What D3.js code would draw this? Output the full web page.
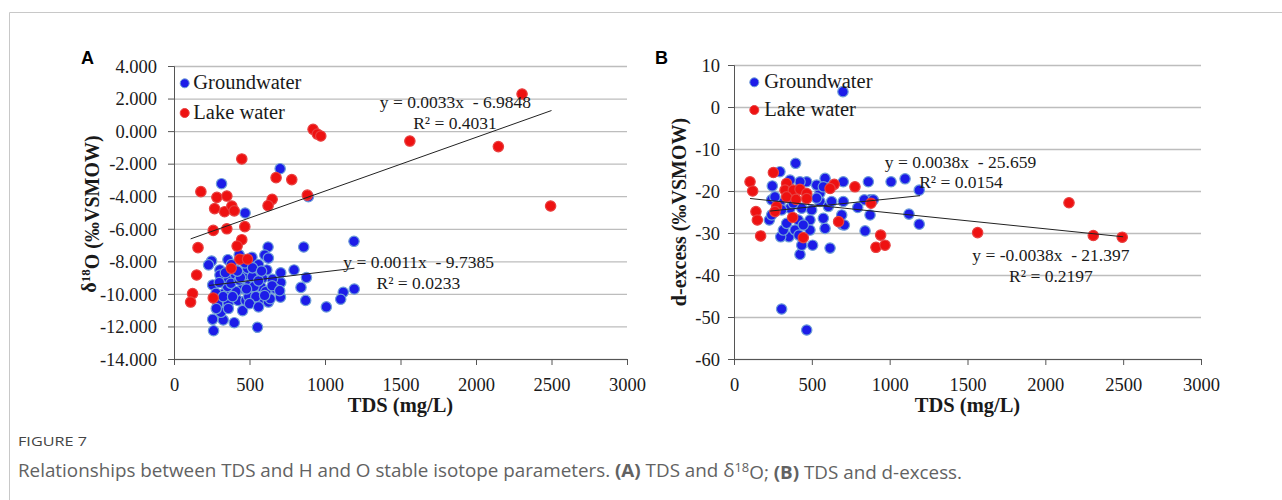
<!DOCTYPE html>
<html>
<head>
<meta charset="utf-8">
<script src="https://cdn.jsdelivr.net/npm/d3@7"></script>
<style>
body { margin:0; background:#fff; }
svg { display:block; }
.cap { font-family:"Open Sans","Noto Sans",sans-serif; }
</style>
</head>
<body>
<svg id="fig" width="1282" height="500"></svg>
<script>
// ---- data ----
// panel A : TDS (mg/L) vs d18O
var aGwTds = [703,315,890,471,1192,859,623,601,625,249,229,357,432,516,304,795,877,841,1121,1194,1104,1009,872,705,707,707,652,667,615,560,256,256,262,326,399,553,311,289,359,454,424,476,568,625,637,527,498,454,410,333,354,399,344,304,465,542,410,487,518,586,575,530,608,377,432,278,326,494,542,388,450,470,380,340,560,600,500,360,280,440,520,580,650,480,420,300,700,560];
var aGwD18O = [-2.31,-3.23,-4.03,-5.03,-6.77,-7.12,-7.12,-7.61,-7.8,-7.98,-8.22,-7.9,-7.6,-7.75,-8.53,-8.53,-9.0,-9.6,-9.9,-9.7,-10.33,-10.8,-10.4,-10.2,-9.3,-8.7,-9.1,-9.66,-8.53,-8.2,-9.45,-11.56,-12.26,-11.6,-11.77,-12.05,-11.13,-10.64,-10.58,-11.03,-10.4,-10.4,-10.44,-10.5,-10.3,-9.96,-9.45,-9.66,-9.86,-9.96,-9.55,-9.04,-9.04,-8.84,-8.84,-8.63,-8.53,-8.43,-8.94,-9.04,-9.55,-9.55,-9.86,-9.35,-9.15,-9.96,-10.17,-10.17,-10.17,-10.17,-7.9,-8.1,-8.2,-8.7,-9.2,-10.1,-10.6,-10.9,-10.9,-9.0,-8.4,-8.6,-9.5,-9.7,-8.6,-9.3,-9.8,-10.8];
var aLkTds = [449,178,284,350,269,335,383,399,676,780,650,623,883,260,350,469,449,418,159,436,487,379,150,123,110,260,921,949,972,2305,1562,2148,2494];
var aLkD18O = [-1.71,-3.72,-4.07,-3.99,-4.76,-4.95,-4.6,-4.9,-2.86,-2.98,-4.19,-4.58,-3.93,-6.1,-6.0,-5.87,-6.67,-7.06,-7.16,-7.87,-7.87,-8.43,-8.84,-9.98,-10.5,-10.25,0.11,-0.18,-0.3,2.28,-0.61,-0.95,-4.6];

// panel B : TDS (mg/L) vs d-excess
var bGwTds = [700,306,467,424,617,842,696,874,874,837,895,795,863,1009,1099,1190,1124,1190,702,702,692,709,585,505,435,353,300,317,227,242,242,295,360,435,499,552,552,531,585,467,424,488,413,338,488,392,574,606,306,263,574,360,381,531,627,445,417,396,295,246];
var bGwDex = [3.65,-48.1,-53.1,-35.1,-33.6,-29.5,-28.0,-25.7,-22.1,-22.1,-22.1,-23.9,-17.8,-17.8,-17.1,-19.8,-25.5,-27.9,-17.8,-22.5,-25.7,-28.1,-28.9,-32.9,-32.9,-30.9,-30.9,-29.3,-26.9,-25.7,-22.1,-22.9,-24.1,-24.1,-24.5,-22.5,-20.5,-18.6,-17.0,-17.8,-17.8,-26.9,-26.9,-27.7,-29.3,-29.3,-26.5,-23.7,-24.5,-21.4,-19.0,-17.4,-22.9,-21.7,-22.5,-28.1,-30.5,-13.4,-15.4,-18.8];
var bLkTds = [253,103,120,338,328,381,424,467,338,398,467,644,617,777,880,274,263,141,150,377,672,171,445,942,912,970,2152,1565,2308,2494];
var bLkDex = [-15.6,-17.8,-20.0,-18.2,-19.8,-19.8,-19.6,-20.6,-21.4,-22.0,-21.8,-18.4,-19.4,-19.0,-22.9,-23.7,-24.9,-24.9,-26.9,-26.3,-27.3,-30.7,-31.1,-30.5,-33.4,-32.9,-22.8,-29.9,-30.6,-31.0];

// linear fits printed on the figure: [slope, intercept, xmin, xmax]
var aGwFit = [0.0011, -9.7385, 233, 1195];
var aLkFit = [0.0033, -6.9848, 110, 2500];
var bGwFit = [0.0038, -25.659, 230, 1195];
var bLkFit = [-0.0038, -21.397, 103, 2500];

var xTicks = d3.range(0, 3001, 500);
var aYTicks = d3.range(-14, 4.001, 2);
var bYTicks = d3.range(-60, 10.001, 10);

var SERIF = "'Liberation Serif','Times New Roman',serif";

var svg = d3.select("#fig");
svg.append("rect").attr("width", 1282).attr("height", 500).attr("fill", "#fff");
// figure frame
svg.append("path").attr("d", "M9.5,500V12.5H1282").attr("fill", "none").attr("stroke", "#c8c8c8");

function serif(sel, size) {
	return sel.style("font-family", SERIF).style("font-size", size + "px").attr("fill", "#1a1a1a");
}

function panel(o) {
	var g = svg.append("g"),
		x = d3.scaleLinear().domain([0, 3000]).range([o.x0, o.x1]),
		y = d3.scaleLinear().domain(o.yDom).range([o.yB, o.yT]);

	// grid
	var grid = g.append("g").attr("transform", "translate(" + o.x0 + ",0)")
		.call(d3.axisLeft(y).tickValues(o.yTicks).tickSize(-(o.x1 - o.x0)).tickFormat(""));
	grid.select(".domain").remove();
	grid.selectAll(".tick line").attr("stroke", "#bdbdbd").attr("stroke-width", 1.3);

	// axes
	var ya = g.append("g").attr("transform", "translate(" + o.x0 + ",0)")
		.call(d3.axisLeft(y).tickValues(o.yTicks).tickSize(6).tickPadding(o.pad).tickFormat(o.fmt));
	var xa = g.append("g").attr("transform", "translate(0," + o.yB + ")")
		.call(d3.axisBottom(x).tickValues(xTicks).tickSize(6).tickPadding(8).tickFormat(d3.format("d")));
	[ya, xa].forEach(function(a) {
		a.attr("font-family", null).attr("font-size", null);
		a.select(".domain").attr("stroke", "#555");
		a.selectAll(".tick line").attr("stroke", "#555");
		serif(a.selectAll(".tick text"), 18.5);
	});
	xa.selectAll(".tick text").attr("dy", "0.95em");
	ya.selectAll(".tick text").attr("dy", "0.34em");

	// points
	function dots(xs, ys, fill, stroke) {
		g.append("g").selectAll("circle").data(xs).join("circle")
			.attr("cx", function(d) { return x(d); })
			.attr("cy", function(d, i) { return y(ys[i]); })
			.attr("r", 5.2)
			.attr("fill", fill).attr("stroke", stroke).attr("stroke-width", 1.2);
	}
	dots(o.gw[0], o.gw[1], "#1c1ce8", "#6f9fd8");
	dots(o.lk[0], o.lk[1], "#ee1111", "#e84040");

	// trend lines
	[o.gwFit, o.lkFit].forEach(function(f) {
		g.append("line")
			.attr("x1", x(f[2])).attr("y1", y(f[0] * f[2] + f[1]))
			.attr("x2", x(f[3])).attr("y2", y(f[0] * f[3] + f[1]))
			.attr("stroke", "#222").attr("stroke-width", 1);
	});

	// equations
	o.eqs.forEach(function(e) {
		serif(g.append("text"), 17.5).style("white-space", "pre")
			.attr("text-anchor", "middle")
			.attr("x", x(e[1])).attr("y", y(e[2])).text(e[0]);
	});

	// legend
	var lg = g.append("g").attr("transform", "translate(" + (o.x0 + o.leg[0]) + "," + (o.yT + o.leg[1]) + ")");
	[["Groundwater", "#1c1ce8", "#6f9fd8", 0], ["Lake water", "#ee1111", "#e84040", o.leg[3]]].forEach(function(l) {
		lg.append("circle").attr("cx", 0).attr("cy", l[3]).attr("r", 4.5).attr("fill", l[1]).attr("stroke", l[2]);
		serif(lg.append("text"), 20.5).attr("x", o.leg[2]).attr("y", l[3] + 6).text(l[0]);
	});

	// axis titles
	serif(g.append("text"), 20.5).style("font-weight", "bold")
		.attr("text-anchor", "middle").attr("x", (o.x0 + o.x1) / 2).attr("y", 411.5).text("TDS (mg/L)");
	var yt = serif(g.append("text"), 20).style("font-weight", "bold")
		.attr("text-anchor", "middle")
		.attr("transform", "translate(" + o.ytx + "," + o.yty + ") rotate(-90)");
	o.yTitle(yt);

	// panel letter
	g.append("text").attr("x", o.letter[1]).attr("y", 63.5)
		.style("font-family", "'Liberation Sans',Arial,sans-serif").style("font-weight", "bold").style("font-size", "18px")
		.text(o.letter[0]);
}

panel({
	x0: 174, x1: 627, yT: 66, yB: 359, yDom: [-14, 4], yTicks: aYTicks, pad: 11,
	fmt: function(d) { return d.toFixed(3); },
	gw: [aGwTds, aGwD18O], lk: [aLkTds, aLkD18O], gwFit: aGwFit, lkFit: aLkFit,
	eqs: [["y = 0.0033x  - 6.9848", 1864, 1.42], ["R² = 0.4031", 1861, 0.13],
		["y = 0.0011x  - 9.7385", 1620, -8.43], ["R² = 0.0233", 1618, -9.72]],
	leg: [10.7, 17.3, 8.6, 29.7],
	ytx: 96, yty: 214,
	yTitle: function(t) {
		t.append("tspan").text("δ");
		t.append("tspan").attr("dy", "-0.45em").style("font-size", "13px").text("18");
		t.append("tspan").attr("dy", "0.45em").text("O (‰VSMOW)");
	},
	letter: ["A", 81]
});

panel({
	x0: 734, x1: 1201, yT: 65, yB: 359, yDom: [-60, 10], yTicks: bYTicks, pad: 8,
	fmt: function(d) { return String(d); },
	gw: [bGwTds, bGwDex], lk: [bLkTds, bLkDex], gwFit: bGwFit, lkFit: bLkFit,
	eqs: [["y = 0.0038x  - 25.659", 1455, -14.45], ["R² = 0.0154", 1458, -19.29],
		["y = -0.0038x  - 21.397", 2036, -36.67], ["R² = 0.2197", 2036, -41.6]],
	leg: [20.3, 17.3, 10, 27.7],
	ytx: 686, yty: 212,
	yTitle: function(t) { t.text("d-excess (‰VSMOW)"); },
	letter: ["B", 655]
});

// caption
svg.append("text").attr("class", "cap").attr("x", 18).attr("y", 446)
	.attr("textLength", 69).attr("lengthAdjust", "spacingAndGlyphs")
	.style("font-size", "13.5px").attr("fill", "#444").text("FIGURE 7");
var cap = svg.append("text").attr("class", "cap").attr("x", 18).attr("y", 477)
	.attr("textLength", 944).attr("lengthAdjust", "spacingAndGlyphs")
	.style("font-size", "17.5px").attr("fill", "#626262");
cap.append("tspan").text("Relationships between TDS and H and O stable isotope parameters. ");
cap.append("tspan").style("font-weight", "bold").text("(A)");
cap.append("tspan").text(" TDS and δ");
cap.append("tspan").attr("dy", "-0.45em").style("font-size", "12px").text("18");
cap.append("tspan").attr("dy", "0.45em").text("O; ");
cap.append("tspan").style("font-weight", "bold").text("(B)");
cap.append("tspan").text(" TDS and d-excess.");
</script>
</body>
</html>
